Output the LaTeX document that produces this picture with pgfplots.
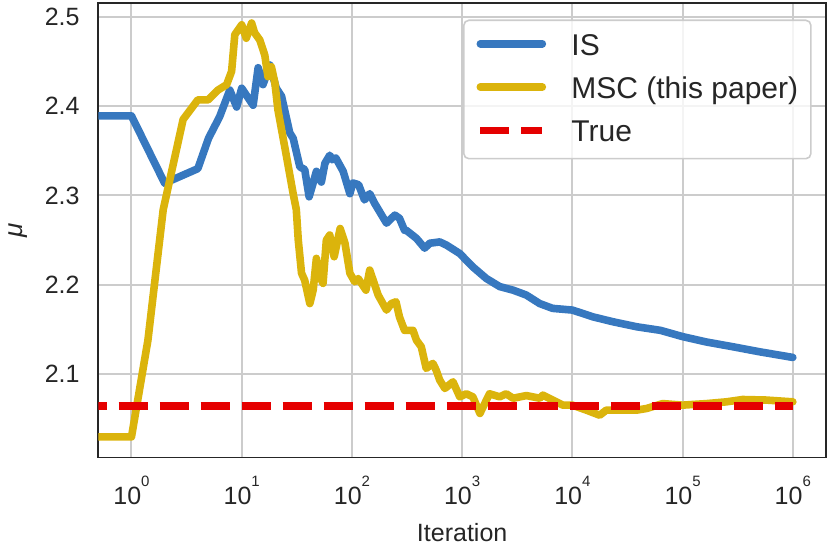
\documentclass[border=0pt]{standalone}
\usepackage{pgfplots}
\pgfplotsset{compat=1.18}
\usepackage{fontspec}
\setmainfont{Liberation Sans}
\definecolor{isblue}{HTML}{3778BF}
\definecolor{mscgold}{HTML}{DBB40C}
\definecolor{truered}{HTML}{E50000}
\definecolor{gridgray}{HTML}{CCCCCC}
\definecolor{spine}{HTML}{262626}
\newcommand{\ep}[1]{10\raisebox{8.65pt}{\fontsize{7.5pt}{7.5pt}\selectfont #1}}
\pgfplotsset{layers/gridbelow/.define layer set={axis background,axis grid,pre main,main,axis ticks,axis lines,axis tick labels,axis descriptions,axis foreground}{}}
\begin{document}
\begin{tikzpicture}
\begin{axis}[
  set layers=gridbelow,
  scale only axis, width=363.85pt, height=227.15pt,
  xmode=log, xmin=0.5, xmax=2e6, ymin=2.0067, ymax=2.5152,
  xtick={1,10,100,1000,10000,100000,1000000},
  xticklabels={\ep{0},\ep{1},\ep{2},\ep{3},\ep{4},\ep{5},\ep{6}},
  minor xtick={},
  ytick={2.1,2.2,2.3,2.4,2.5},
  yticklabels={2.1,2.2,2.3,2.4,2.5},
  major tick length=0pt,
  tick style={draw=none},
  grid=major,
  grid style={gridgray, line width=1pt},
  axis line style={spine, line width=0.9pt},
  tick label style={font=\fontsize{12.5pt}{15pt}\selectfont, text=spine},
  xticklabel style={anchor=base, yshift=-23.35pt, inner sep=0pt},
  yticklabel style={anchor=east, xshift=-9.15pt, inner sep=0pt},
  xlabel={Iteration},
  xlabel style={at={(axis description cs:0.5,-0.1842)}, anchor=base, inner sep=0pt, font=\fontsize{12.5pt}{15pt}\selectfont, text=spine},
  ylabel={\textit{μ}},
  ylabel style={at={(axis description cs:-0.1103,0.5)}, anchor=center, inner sep=0pt, font=\fontsize{13pt}{15pt}\selectfont, text=spine},
  legend cell align=left,
  legend style={at={(0.9803,0.9641)}, anchor=north east,
    draw=gridgray, line width=0.8pt, rounded corners=2.5pt,
    fill=white, fill opacity=0.8, text opacity=1,
    inner xsep=6.35pt, inner ysep=3pt,
    column sep=12.65pt, row sep=1.82pt,
    font=\fontsize{15pt}{18pt}\selectfont, text=spine,
    cells={anchor=base west},
    nodes={inner sep=0pt, text height=14.35pt, text depth=5.5pt}},
  legend image code/.code={\draw[#1,dash phase=0pt] (0pt,5.65pt) -- (31pt,5.65pt);},
]
\addplot[isblue, line width=3.8pt, line cap=round, line join=round] coordinates {
(0.5,2.389) (1,2.389) (2,2.3137) (4,2.330) (5,2.364) (6.3,2.388) (7.8,2.418)
(9,2.399) (10,2.420) (12.7,2.401) (14.1,2.443) (15.6,2.424) (18,2.446)
(20.6,2.420) (23,2.411) (27.3,2.370) (29.3,2.364) (33.7,2.332) (37.3,2.329)
(40.9,2.2985) (44.5,2.314) (47.6,2.327) (52.8,2.315) (56.9,2.336) (62.9,2.345)
(66.5,2.340) (71.4,2.342) (83.3,2.327) (95.8,2.302) (102,2.314) (115,2.312)
(130,2.295) (145,2.302) (161,2.291) (198,2.2725) (206,2.269) (245,2.278)
(270,2.2745) (300,2.261) (311,2.261) (385,2.252) (457,2.241) (508,2.2465)
(626,2.248) (719,2.2445) (951,2.235) (1250,2.220) (1660,2.207) (2190,2.198)
(2900,2.194) (3820,2.1885) (5050,2.179) (6620,2.1736) (10000,2.1717)
(15500,2.164) (23400,2.1586) (38400,2.153) (63000,2.149) (100000,2.142)
(164000,2.136) (287000,2.1306) (500000,2.125) (1000000,2.1187)
};
\addplot[mscgold, line width=3.8pt, line cap=round, line join=round] coordinates {
(0.5,2.0297) (1,2.0297) (1.41,2.138) (1.94,2.284) (2.94,2.385) (4.0,2.407)
(4.96,2.407) (6.1,2.418) (7.3,2.424) (8.1,2.439) (8.66,2.480) (10,2.491)
(11.0,2.476) (12.3,2.493) (13.1,2.482) (14.6,2.474) (16.2,2.457) (17.3,2.433)
(18.6,2.444) (20,2.426) (21.3,2.396) (25.5,2.3435) (29.3,2.302) (31.3,2.284)
(32.6,2.250) (34.9,2.213) (37.3,2.205) (41.5,2.179) (44.5,2.194) (47.6,2.2296)
(51.1,2.209) (54.7,2.2016) (58.6,2.250) (62.9,2.2557) (69,2.2314) (78.2,2.263)
(86.5,2.2465) (95.8,2.213) (106,2.2034) (114,2.207) (134,2.194) (145,2.2165)
(161,2.200) (173,2.1885) (206,2.1717) (228,2.179) (251,2.181) (270,2.164)
(300,2.149) (358,2.149) (385,2.138) (426,2.1306) (472,2.1064) (543,2.112)
(581,2.1045) (626,2.0933) (697,2.084) (826,2.0914) (951,2.0746) (1090,2.078)
(1250,2.0746) (1450,2.056) (1770,2.078) (2190,2.0746) (2510,2.078) (2900,2.073)
(3820,2.076) (5050,2.073) (5400,2.0765) (6620,2.071) (8200,2.0653) (10000,2.0653)
(13400,2.0597) (17700,2.054) (20300,2.0597) (26400,2.0597) (38400,2.0597)
(47300,2.0616) (66000,2.067) (100000,2.0653) (164000,2.067) (250000,2.069)
(350000,2.0716) (570000,2.071) (1000000,2.069)
};
\addplot[truered, line width=3.8pt, dash pattern=on 14.5pt off 6pt, dash phase=10.3pt] coordinates {
(0.5,2.0645) (1000000,2.0645)
};
\legend{IS,{MSC (this paper)\hspace{2.45pt}},True}
\end{axis}
\pgfresetboundingbox
\path[use as bounding box] (-49.15pt,-48.35pt) rectangle (365.85pt,228.75pt);
\end{tikzpicture}
\end{document}
